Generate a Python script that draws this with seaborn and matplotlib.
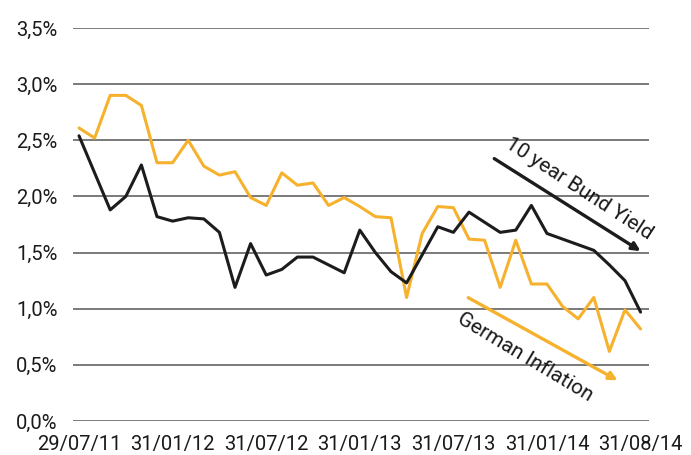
import pandas as pd
import matplotlib.pyplot as plt
import seaborn as sns

date_labels = ["29/07/11", "31/01/12", "31/07/12", "31/01/13", "31/07/13", "31/01/14", "31/08/14"]

bund_yield = [2.54, 2.21, 1.88, 2.00, 2.28, 1.82, 1.78, 1.81, 1.80, 1.68,
              1.19, 1.58, 1.30, 1.35, 1.46, 1.46, 1.39, 1.32, 1.70, 1.50,
              1.33, 1.23, 1.48, 1.73, 1.68, 1.86, 1.77, 1.68, 1.70, 1.92,
              1.67, 1.62, 1.57, 1.52, 1.39, 1.25, 0.97]

german_inflation = [2.61, 2.52, 2.90, 2.90, 2.81, 2.30, 2.30, 2.50, 2.27, 2.19,
                    2.22, 1.99, 1.92, 2.21, 2.10, 2.12, 1.92, 1.99, 1.91, 1.82,
                    1.81, 1.10, 1.67, 1.91, 1.90, 1.62, 1.61, 1.19, 1.61, 1.22,
                    1.22, 1.02, 0.91, 1.10, 0.62, 0.99, 0.82]

y_ticks = [0.0, 0.5, 1.0, 1.5, 2.0, 2.5, 3.0, 3.5]

df = pd.DataFrame({
    "month": list(range(len(bund_yield))),
    "bund": bund_yield,
    "inflation": german_inflation,
})

sns.set_style("white")
plt.rcParams['font.family'] = ['Roboto', 'DejaVu Sans']

yellow = "#F6B12D"
dark = "#1c1c1c"

fig = plt.figure(figsize=(6.91, 4.55), dpi=100)
ax = fig.add_axes([73 / 691, 34 / 455, 576 / 691, 393 / 455])

for y in y_ticks:
    ax.axhline(y, color="#7a7a7a", lw=1.4, zorder=0)

sns.lineplot(data=df, x="month", y="inflation", color=yellow, lw=2.2, ax=ax)
sns.lineplot(data=df, x="month", y="bund", color=dark, lw=2.2, ax=ax)

ax.set_xlim(-0.385, 36.54)
ax.set_ylim(0, 3.5)
ax.set_yticks(y_ticks)
ax.set_yticklabels([f"{v:.1f}%".replace(".", ",") for v in y_ticks])
ax.set_xticks(range(0, 37, 6))
ax.set_xticklabels(date_labels)
ax.tick_params(axis="both", length=0, labelsize=14.5, colors="#1a1a1a")
ax.tick_params(axis="y", pad=11)
ax.tick_params(axis="x", pad=10)
ax.set_xlabel("")
ax.set_ylabel("")
sns.despine(ax=ax, left=True, bottom=True)

# trend arrows + labels
ax.annotate("", xy=(36.15, 1.50), xytext=(26.47, 2.35),
            arrowprops=dict(arrowstyle="-|>", color=dark, lw=2.4, mutation_scale=12))
ax.text(32.05, 2.07, "10 year Bund Yield", rotation=-33, fontsize=15,
        ha="center", va="center", color="#1a1a1a", rotation_mode="anchor")

ax.annotate("", xy=(34.68, 0.35), xytext=(24.8, 1.11),
            arrowprops=dict(arrowstyle="-|>", color=yellow, lw=2.4, mutation_scale=12))
ax.text(28.6, 0.57, "German Inflation", rotation=-31, fontsize=15,
        ha="center", va="center", color="#1a1a1a", rotation_mode="anchor")

fig.savefig("out.png", dpi=100)
